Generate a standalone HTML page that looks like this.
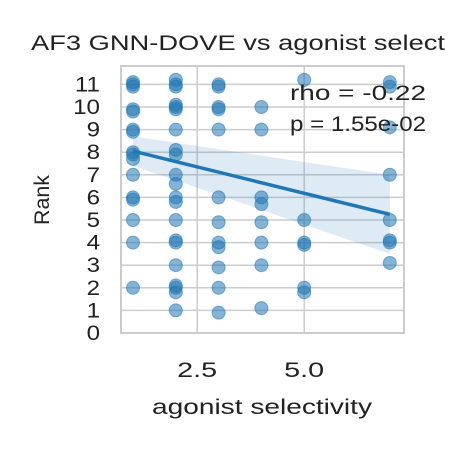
<!DOCTYPE html>
<html><head><meta charset="utf-8"><style>
body{margin:0;background:#fff}
svg{font-family:"Liberation Sans",Arial,sans-serif}
</style></head><body>
<svg width="450" height="450" id="c">
<text x="238" y="50" font-size="21" text-anchor="middle" textLength="414" lengthAdjust="spacingAndGlyphs" fill="#222">AF3 GNN-DOVE vs agonist select</text>
<text x="262" y="414" font-size="21" text-anchor="middle" textLength="220" lengthAdjust="spacingAndGlyphs" fill="#222">agonist selectivity</text>
<text transform="translate(49,200) rotate(-90)" font-size="21" text-anchor="middle" textLength="50" lengthAdjust="spacingAndGlyphs" fill="#222">Rank</text>
<g id="grid"></g><g id="band"></g><g id="pts"></g><g id="fit"></g>
<rect x="121" y="66" width="283" height="267" fill="none" stroke="#ccc" stroke-width="2"/>
<text x="290" y="100" font-size="21" textLength="136" lengthAdjust="spacingAndGlyphs" fill="#222">rho = -0.22</text>
<text x="290" y="131" font-size="21" textLength="136" lengthAdjust="spacingAndGlyphs" fill="#222">p = 1.55e-02</text>
<g id="ticks"></g>
</svg>
<script>
const xs=[1,1,1,1,1,1,1,1,1,1,1,1,1,1,1,1, 2,2,2,2,2,2,2,2,2,2,2,2,2,2,2,2,2,2,2,2,2, 3,3,3,3,3,3,3,3,3,3,3,3, 4,4,4,4,4,4,4,4, 5,5,5,5,5,5, 7,7,7,7,7,7,7,7];
const ys=[11.1,11,10.9,9.9,9.8,9,8.9,8,7.9,7.7,7,6,5.9,5,4,2, 11.2,11,10.9,10.1,10,9.9,9,8.1,7.9,7,6.6,6,5.8,5,4.1,4,3,2.1,2,1.8,1, 11,10.9,10,9.9,9,6,4.9,4,3.8,2.9,2,0.9, 10,9,6,5.7,4.9,4,3,1.1, 11.2,5,4,3.9,2,1.8, 11.1,10.9,9.1,7,5,4.1,4,3.1];
const yTicks=[0,1,2,3,4,5,6,7,8,9,10,11];
const xTicks=[2.5,5.0];
const xTickLabels=["2.5","5.0"];
const fitX=[1,7];const fitY=[8.05,5.25];
const bandUpper=[8.7,7.0];const bandLower=[7.4,3.5];
const X=v=>133+(v-1)*42.8, Y=v=>333-22.6*v;
const NS="http://www.w3.org/2000/svg";
function mk(t,a,p){const e=document.createElementNS(NS,t);for(const k in a)e.setAttribute(k,a[k]);document.getElementById(p).appendChild(e);return e;}
yTicks.forEach(v=>{
 const l=mk('line',{x1:121,x2:404,y1:Y(v),y2:Y(v),stroke:'#ccc','stroke-width':1.5},'grid');
 
 
 const t=mk('text',{x:100,y:Y(v)+7,'font-size':21,'text-anchor':'end',fill:'#222',transform:`translate(100,0) scale(1.15,1) translate(-100,0)`},'ticks');t.textContent=v;
 
 
});
xTicks.forEach((v,i)=>{
 const l=mk('line',{x1:X(v),x2:X(v),y1:66,y2:333,stroke:'#ccc','stroke-width':1.5},'grid');
 
 
 const t=mk('text',{x:X(v),y:377,'font-size':21,'text-anchor':'middle',textLength:40,lengthAdjust:'spacingAndGlyphs',fill:'#222'},'ticks');t.textContent=xTickLabels[i];
 
 
});
const b=mk('polygon',{points:`${X(fitX[0])},${Y(bandUpper[0])} ${X(fitX[1])},${Y(bandUpper[1])} ${X(fitX[1])},${Y(bandLower[1])} ${X(fitX[0])},${Y(bandLower[0])}`,fill:'#1f77b4','fill-opacity':0.15},'band');


xs.forEach((x,i)=>{
 const c=mk('circle',{cx:X(x),cy:Y(ys[i]),r:6.5,fill:'#1f77b4','fill-opacity':0.55,stroke:'#1f77b4','stroke-opacity':0.55,'stroke-width':1},'pts');
 
 
});
const f=mk('line',{x1:X(fitX[0]),y1:Y(fitY[0]),x2:X(fitX[1]),y2:Y(fitY[1]),stroke:'#1f77b4','stroke-width':3.5},'fit');


</script>
</body></html>
